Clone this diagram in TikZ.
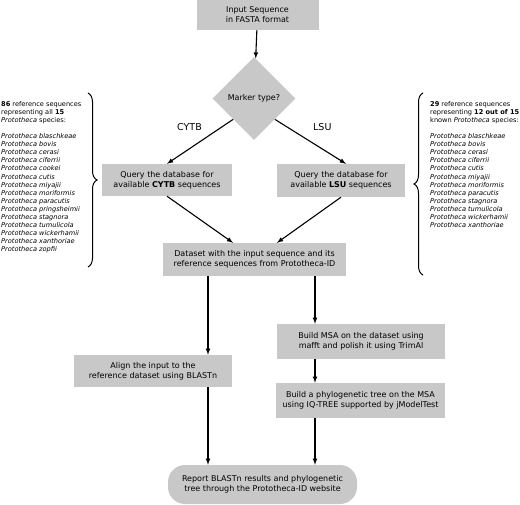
\documentclass[tikz,border=0pt]{standalone}
\usepackage{fontspec}
\setmainfont{DejaVu Sans}
\usetikzlibrary{shapes,arrows,positioning,decorations.pathreplacing,calc}
\definecolor{boxgray}{RGB}{200,200,200}
\tikzset{
  stepbox/.style={rectangle, fill=boxgray, align=center, inner sep=0pt, font=\fontsize{8}{10}\selectfont},
  flowarrow/.style={->, >=latex, line width=1.1pt},
  branchlabel/.style={font=\fontsize{9.5}{11}\selectfont},
  specieslist/.style={align=left, inner sep=0pt, font=\fontsize{6.6}{8.1}\selectfont},
  bigbrace/.style={decorate, decoration={brace, amplitude=9pt}, line width=1pt}
}
\begin{document}
\begin{tikzpicture}[x=1pt, y=-1pt]
\useasboundingbox (0,0) rectangle (520,505);
\node[stepbox, minimum width=122pt, minimum height=30pt] (input) at (257.5,15) {Input Sequence\\in FASTA format};
\node[diamond, fill=boxgray, inner sep=0pt, minimum size=83pt, font=\fontsize{8}{10}\selectfont] (marker) at (254,98.5) {Marker type?};
\node[stepbox, minimum width=130pt, minimum height=32pt] (cytb) at (167,180) {Query the database for\\available \textbf{CYTB} sequences};
\node[stepbox, minimum width=128pt, minimum height=33pt] (lsu) at (341,180.5) {Query the database for\\available \textbf{LSU} sequences};
%============
\node[stepbox, minimum width=183pt, minimum height=33pt] (dataset) at (254.5,259.5) {Dataset with the input sequence and its\\reference sequences from Prototheca-ID};
\node[stepbox, minimum width=158pt, minimum height=32pt] (align) at (153,371) {Align the input to the\\reference dataset using BLASTn};
\node[stepbox, minimum width=168pt, minimum height=35pt] (msa) at (361,341.5) {Build MSA on the dataset using\\mafft and polish it using TrimAl};
\node[stepbox, minimum width=169pt, minimum height=35pt] (tree) at (360.5,400.5) {Build a phylogenetic tree on the MSA\\using IQ-TREE supported by jModelTest};
\node[stepbox, rounded corners=17pt, minimum width=189pt, minimum height=39pt] (report) at (262.5,484.5) {Report BLASTn results and phylogenetic\\tree through the Prototheca-ID website};
%============
\node[specieslist, anchor=north west] (cytblist) at (1,101) {\textbf{86} reference sequences\\representing all \textbf{15}\\\textit{Prototheca} species:\\[8pt]
\textit{Prototheca blaschkeae}\\\textit{Prototheca bovis}\\\textit{Prototheca cerasi}\\\textit{Prototheca ciferrii}\\\textit{Prototheca cookei}\\\textit{Prototheca cutis}\\\textit{Prototheca miyajii}\\\textit{Prototheca moriformis}\\\textit{Prototheca paracutis}\\\textit{Prototheca pringsheimii}\\\textit{Prototheca stagnora}\\\textit{Prototheca tumulicola}\\\textit{Prototheca wickerhamii}\\\textit{Prototheca xanthoriae}\\\textit{Prototheca zopfii}};
\node[specieslist, anchor=north west] (lsulist) at (430,101) {\textbf{29} reference sequences\\representing \textbf{12 out of 15}\\known \textit{Prototheca} species:\\[8pt]
\textit{Prototheca blaschkeae}\\\textit{Prototheca bovis}\\\textit{Prototheca cerasi}\\\textit{Prototheca ciferrii}\\\textit{Prototheca cutis}\\\textit{Prototheca miyajii}\\\textit{Prototheca moriformis}\\\textit{Prototheca paracutis}\\\textit{Prototheca stagnora}\\\textit{Prototheca tumulicola}\\\textit{Prototheca wickerhamii}\\\textit{Prototheca xanthoriae}};
\coordinate (cytbtop) at (88,93);
\coordinate (cytbbot) at (88,267);
\coordinate (lsutop) at (423,93);
\coordinate (lsubot) at (423,275);
\draw[bigbrace] (cytbtop) -- (cytbbot);
\draw[bigbrace] (lsubot) -- (lsutop);
%==========
\draw[flowarrow] (input) -- (marker);
\draw[flowarrow] (marker.south west) -- node[branchlabel, pos=0.4, above left=3pt and 1pt] {CYTB} (cytb.north);
\draw[flowarrow] (marker.south east) -- node[branchlabel, pos=0.4, above right=3pt and 6pt] {LSU} ([xshift=5pt]lsu.north);
\draw[flowarrow] (cytb.south) -- ([xshift=-21.5pt]dataset.north);
\draw[flowarrow] (lsu.south) -- ([xshift=22.5pt]dataset.north);
\draw[flowarrow] ([xshift=-46.5pt]dataset.south) -- ([xshift=-46.5pt]dataset.south |- align.north);
\draw[flowarrow] ([xshift=60.5pt]dataset.south) -- ([xshift=60.5pt]dataset.south |- msa.north);
\draw[flowarrow] ([xshift=-46pt]msa.south) -- ([xshift=-46pt]msa.south |- tree.north);
\draw[flowarrow] ([xshift=55pt]align.south) -- ([xshift=55pt]align.south |- report.north);
\draw[flowarrow] ([xshift=-45.5pt]tree.south) -- ([xshift=-45.5pt]tree.south |- report.north);
\end{tikzpicture}
\end{document}
